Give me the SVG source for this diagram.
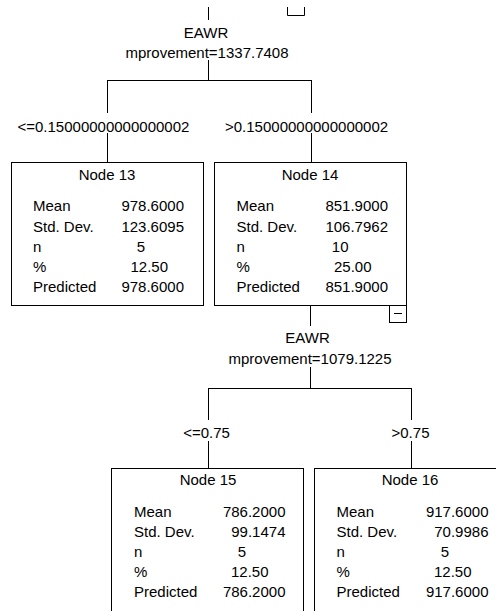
<svg xmlns="http://www.w3.org/2000/svg" width="496" height="611" viewBox="0 0 496 611">
<style>
text{font-family:"Liberation Sans",Arial,sans-serif;font-size:15px;fill:#000}
.c{text-anchor:middle}
.e{text-anchor:end}
.box{fill:#fff;stroke:#000;stroke-width:1}
.ln{fill:none;stroke:#000;stroke-width:1}
</style>
<rect width="496" height="611" fill="#fff"/>
<g id="connectors" class="ln">
<path d="M208.5 7V20M208.5 60V80.5M107.5 80.5H311.5M107.5 80V113M311.5 80V113M107.5 133V162M311.5 133V162"/>
<path d="M310.5 306V326M310.5 367V388.5M208.5 388.5H411.5M208.5 388V420M411.5 388V420M208.5 441V468M411.5 441V468"/>
</g>
<g id="node12-partial">
<path class="ln" d="M287.5 7V15.5H304.5V7"/>
</g>
<g id="split1">
<text class="c" x="206" y="38">EAWR</text>
<text class="c" x="207" y="58">mprovement=1337.7408</text>
<text x="17.5" y="131.5">&lt;=0.15000000000000002</text>
<text x="225" y="131.5">&gt;0.15000000000000002</text>
</g>
<g id="node13">
<rect class="box" x="11.5" y="162.5" width="192" height="143"/>
<text class="c" x="107" y="180">Node 13</text>
<text x="33" y="211">Mean</text><text class="e" x="184" y="211">978.6000</text>
<text x="33" y="231.5">Std. Dev.</text><text class="e" x="184" y="231.5">123.6095</text>
<text x="33" y="252">n</text><text class="e" x="145" y="252">5</text>
<text x="33" y="272">%</text><text class="e" x="168" y="272">12.50</text>
<text x="33" y="292">Predicted</text><text class="e" x="184" y="292">978.6000</text>
</g>
<g id="node14">
<rect class="box" x="214.5" y="162.5" width="192" height="143"/>
<text class="c" x="310" y="180">Node 14</text>
<text x="236.5" y="211">Mean</text><text class="e" x="388" y="211">851.9000</text>
<text x="236.5" y="231.5">Std. Dev.</text><text class="e" x="388" y="231.5">106.7962</text>
<text x="236.5" y="252">n</text><text class="e" x="348.5" y="252">10</text>
<text x="236.5" y="272">%</text><text class="e" x="371.5" y="272">25.00</text>
<text x="236.5" y="292">Predicted</text><text class="e" x="388" y="292">851.9000</text>
<rect class="box" x="389.5" y="305.5" width="17" height="17"/>
<path class="ln" d="M394 313.5H402"/>
</g>
<g id="split2">
<text class="c" x="307.5" y="343">EAWR</text>
<text class="c" x="310" y="364">mprovement=1079.1225</text>
<text class="c" x="206.5" y="438">&lt;=0.75</text>
<text class="c" x="410.5" y="438">&gt;0.75</text>
</g>
<g id="node15">
<rect class="box" x="111.5" y="468.5" width="192" height="160"/>
<text class="c" x="208" y="485">Node 15</text>
<text x="134" y="517">Mean</text><text class="e" x="285.5" y="517">786.2000</text>
<text x="134" y="537">Std. Dev.</text><text class="e" x="285.5" y="537">99.1474</text>
<text x="134" y="557">n</text><text class="e" x="246" y="557">5</text>
<text x="134" y="577">%</text><text class="e" x="268.5" y="577">12.50</text>
<text x="134" y="597">Predicted</text><text class="e" x="285.5" y="597">786.2000</text>
</g>
<g id="node16">
<rect class="box" x="314.5" y="468.5" width="192" height="160"/>
<text class="c" x="410" y="485">Node 16</text>
<text x="336.5" y="517">Mean</text><text class="e" x="488.5" y="517">917.6000</text>
<text x="336.5" y="537">Std. Dev.</text><text class="e" x="488.5" y="537">70.9986</text>
<text x="336.5" y="557">n</text><text class="e" x="449" y="557">5</text>
<text x="336.5" y="577">%</text><text class="e" x="471.5" y="577">12.50</text>
<text x="336.5" y="597">Predicted</text><text class="e" x="488.5" y="597">917.6000</text>
</g>
</svg>
